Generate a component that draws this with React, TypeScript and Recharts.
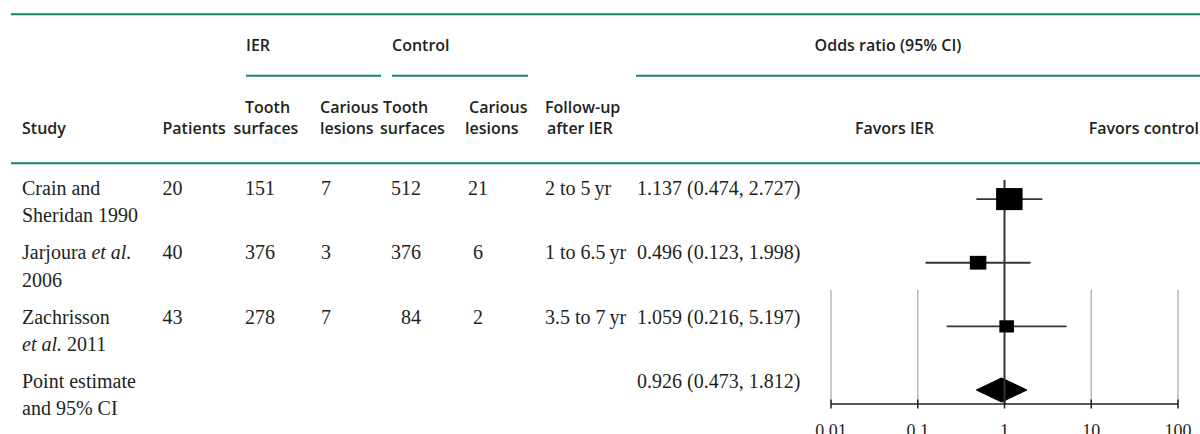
import React from 'react'
import { ComposedChart, Scatter, Area, XAxis, YAxis, ReferenceLine } from 'recharts'

// study rows (underscores mark italic text)
const studyNames = [
  ['Crain and', 'Sheridan 1990'],
  ['Jarjoura _et al._', '2006'],
  ['Zachrisson', '_et al._ 2011'],
]
const patients = [20, 40, 43]
const ierSurfaces = [151, 376, 278]
const ierLesions = [7, 3, 7]
const controlSurfaces = [512, 376, 84]
const controlLesions = [21, 6, 2]
const followUp = ['2 to 5\u2009yr', '1 to 6.5\u2009yr', '3.5 to 7\u2009yr']
const oddsRatio = [1.137, 0.496, 1.059]
const ciLower = [0.474, 0.123, 0.216]
const ciUpper = [2.727, 1.998, 5.197]
const weights = [59, 23, 18]

const pooledLabel = ['Point estimate', 'and 95% CI']
const pooledOR = 0.926
const pooledLower = 0.473
const pooledUpper = 1.812

const axisTicks = [0.01, 0.1, 1, 10, 100]
const axisTickLabels = ['0.01', '0.1', '1', '10', '100']

const INK = '#231f20'
const GREEN = '#17866a'
const SERIF = '"Liberation Serif", "Times New Roman", serif'
const SANS = '"Open Sans", "Noto Sans", sans-serif'

const fmt = (v: number) => v.toFixed(3)
const orText = (v: number, lo: number, hi: number) => `${fmt(v)} (${fmt(lo)}, ${fmt(hi)})`

const rich = (s: string) =>
  s.split('_').map((part, i) => (
    <tspan key={i} fontStyle={i % 2 ? 'italic' : 'normal'}>
      {part}
    </tspan>
  ))

// table layout
const ROW_BASE = 195
const ROW_STEP = 64.3
const LINE_STEP = 27.3
const HEAD_1 = 113
const HEAD_2 = 134
const GRID_TOP = 2.43
const Y_BOTTOM = 4.22

const studyPoints = oddsRatio.map((v, i) => ({ x: v, y: i + 1, w: weights[i] }))
const pooledRow = oddsRatio.length + 1
const HALF_H = 0.19
const diamond = [
  { x: pooledLower, band: [pooledRow, pooledRow] },
  { x: pooledOR, band: [pooledRow - HALF_H, pooledRow + HALF_H] },
  { x: pooledUpper, band: [pooledRow, pooledRow] },
]

const StudyBox = (props: any) => {
  const { cx, cy, payload } = props
  const h = 2.87 * Math.sqrt(payload.w)
  const w = h * 1.2
  return <rect x={cx - w / 2} y={cy - h / 2} width={w} height={h} fill="#000" />
}

const OrTick = (props: any) => {
  const { x, y, payload } = props
  const idx = axisTicks.indexOf(payload.value)
  return (
    <g>
      <line x1={x} x2={x} y1={y - 4.5} y2={y + 4.5} stroke={INK} strokeWidth={1.5} />
      <text x={x} y={y + 33} textAnchor="middle" fontFamily={SERIF} fontSize={18} fill={INK}>
        {idx >= 0 ? axisTickLabels[idx] : String(payload.value)}
      </text>
    </g>
  )
}

const Head = ({ x, y, anchor = 'start', children }: any) => (
  <text x={x} y={y} textAnchor={anchor} fontFamily={SANS} fontWeight={600} fontSize={16} fill={INK}>
    {children}
  </text>
)

const Body = ({ x, y, anchor = 'start', children }: any) => (
  <text x={x} y={y} textAnchor={anchor} fontFamily={SERIF} fontSize={20} fill={INK}>
    {children}
  </text>
)

function TableOverlay() {
  return (
    <svg width={1200} height={434} style={{ position: 'absolute', left: 0, top: 0, pointerEvents: 'none' }}>
      <line x1={11} x2={1200} y1={14.3} y2={14.3} stroke={GREEN} strokeWidth={2} />
      <Head x={246} y={51}>IER</Head>
      <Head x={392} y={51}>Control</Head>
      <Head x={888} y={51} anchor="middle">Odds ratio (95% CI)</Head>
      <line x1={246} x2={381} y1={75.7} y2={75.7} stroke={GREEN} strokeWidth={2} />
      <line x1={392} x2={528} y1={75.7} y2={75.7} stroke={GREEN} strokeWidth={2} />
      <line x1={636} x2={1200} y1={75.7} y2={75.7} stroke={GREEN} strokeWidth={2} />

      <Head x={245} y={HEAD_1}>Tooth</Head>
      <Head x={320} y={HEAD_1}>Carious</Head>
      <Head x={383} y={HEAD_1}>Tooth</Head>
      <Head x={469} y={HEAD_1}>Carious</Head>
      <Head x={545} y={HEAD_1}>Follow-up</Head>

      <Head x={22} y={HEAD_2}>Study</Head>
      <Head x={162.5} y={HEAD_2}>Patients</Head>
      <Head x={233.5} y={HEAD_2}>surfaces</Head>
      <Head x={320} y={HEAD_2}>lesions</Head>
      <Head x={380} y={HEAD_2}>surfaces</Head>
      <Head x={465} y={HEAD_2}>lesions</Head>
      <Head x={547} y={HEAD_2}>after IER</Head>
      <Head x={855} y={HEAD_2}>Favors IER</Head>
      <Head x={1199} y={HEAD_2} anchor="end">Favors control</Head>
      <line x1={11} x2={1200} y1={163.3} y2={163.3} stroke={GREEN} strokeWidth={2} />

      {studyNames.map((lines, i) => {
        const y = ROW_BASE + i * ROW_STEP
        return (
          <g key={i}>
            <Body x={22} y={y}>{rich(lines[0])}</Body>
            <Body x={22} y={y + LINE_STEP}>{rich(lines[1])}</Body>
            <Body x={162.5} y={y}>{patients[i]}</Body>
            <Body x={245} y={y}>{ierSurfaces[i]}</Body>
            <Body x={321} y={y}>{ierLesions[i]}</Body>
            <Body x={421} y={y} anchor="end">{controlSurfaces[i]}</Body>
            <Body x={478} y={y} anchor="middle">{controlLesions[i]}</Body>
            <Body x={545} y={y}>{followUp[i]}</Body>
            <Body x={637} y={y}>{orText(oddsRatio[i], ciLower[i], ciUpper[i])}</Body>
          </g>
        )
      })}
      <Body x={22} y={ROW_BASE + 3 * ROW_STEP}>{pooledLabel[0]}</Body>
      <Body x={22} y={ROW_BASE + 3 * ROW_STEP + LINE_STEP}>{pooledLabel[1]}</Body>
      <Body x={637} y={ROW_BASE + 3 * ROW_STEP}>{orText(pooledOR, pooledLower, pooledUpper)}</Body>
    </svg>
  )
}

export default function App() {
  return (
    <div style={{ position: 'absolute', left: 0, top: 0, width: 1200, height: 434, background: '#fff' }}>
      <ComposedChart width={1200} height={434} margin={{ top: 180, right: 22, left: 831, bottom: 0 }}>
        <XAxis
          dataKey="x"
          type="number"
          scale="log"
          domain={[0.01, 100]}
          ticks={axisTicks}
          allowDataOverflow
          interval={0}
          tick={OrTick}
          tickLine={false}
          tickSize={0}
          tickMargin={0}
          axisLine={{ stroke: INK, strokeWidth: 1.5 }}
          height={30}
        />
        <YAxis dataKey="y" type="number" domain={[0.7, Y_BOTTOM]} reversed hide allowDataOverflow />
        {axisTicks
          .filter((t) => t !== 1)
          .map((t) => (
            <ReferenceLine
              key={`g${t}`}
              segment={[{ x: t, y: GRID_TOP }, { x: t, y: Y_BOTTOM }]}
              stroke="#b8b8b8"
              strokeWidth={1.5}
              ifOverflow="visible"
            />
          ))}
        <ReferenceLine x={1} stroke="#333" strokeWidth={2} ifOverflow="visible" />
        {oddsRatio.map((v, i) => (
          <ReferenceLine
            key={`ci${i}`}
            segment={[{ x: ciLower[i], y: i + 1 }, { x: ciUpper[i], y: i + 1 }]}
            stroke="#333"
            strokeWidth={1.8}
            ifOverflow="visible"
          />
        ))}
        <Area
          data={diamond}
          dataKey="band"
          type="linear"
          stroke="#000"
          strokeWidth={1}
          fill="#000"
          fillOpacity={1}
          dot={false}
          activeDot={false}
          isAnimationActive={false}
        />
        <Scatter data={studyPoints} dataKey="y" shape={StudyBox} isAnimationActive={false} />
      </ComposedChart>
      <TableOverlay />
    </div>
  )
}
